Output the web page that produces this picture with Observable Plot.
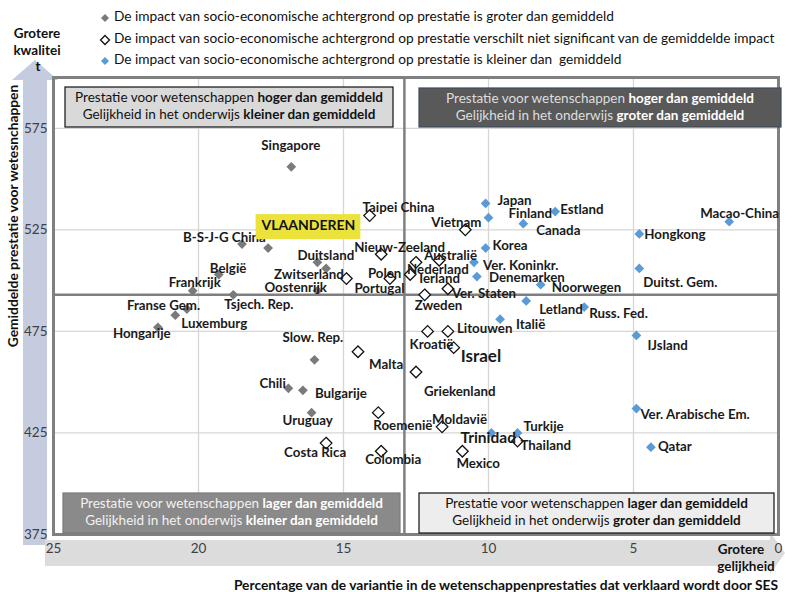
<!DOCTYPE html>
<html><head><meta charset="utf-8">
<script src="https://cdn.jsdelivr.net/npm/d3@7"></script>
<script src="https://cdn.jsdelivr.net/npm/@observablehq/plot@0.6"></script>
<style>
body{margin:0;background:#fff;}
#chart{width:785px;height:592px;}
</style></head><body><div id="chart"></div>
<script>
// ---- data ----
const countries = ["Singapore","VLAANDEREN","B-S-J-G China","België","Frankrijk","Duitsland","Zwitserland","Oostenrijk","Tsjech. Rep.","Franse Gem.","Luxemburg","Hongarije","Slow. Rep.","Chili","Bulgarije","Uruguay",
 "Taipei China","Nieuw-Zeeland","Portugal","Polen","Nederland","Ierland","Australië","Vietnam","Zweden","Ver. Staten","Malta","Griekenland","Roemenië","Costa Rica","Colombia","Kroatië","Litouwen","Israel","Moldavië","Mexico","Thailand",
 "Japan","Finland","Estland","Canada","Hongkong","Macao-China","Korea","Ver. Koninkr.","Denemarken","Noorwegen","Duitst. Gem.","Letland","Russ. Fed.","Italië","IJsland","Ver. Arabische Em.","Qatar","Turkije","Trinidad"];
const sesVariance = [16.8,17.6,18.5,19.3,20.2,15.9,15.6,15.9,18.8,20.4,20.8,21.4,16.0,16.9,16.4,16.1,
 14.1,13.7,14.9,13.4,12.5,12.7,11.7,10.8,12.2,11.4,14.5,12.5,13.8,15.6,13.7,12.1,11.4,11.2,11.6,10.9,9.0,
 10.1,10.0,7.7,8.8,4.8,1.7,10.1,10.5,10.4,8.2,4.8,8.7,6.7,9.6,4.9,4.9,4.4,9.0,9.9];
const scienceScore = [556,516,518,503,495,509,506,495,493,486,483,477,461,447,446,435,
 532,513,501,501,509,503,510,525,493,496,465,455,435,420,416,475,475,467,428,416,421,
 538,531,534,528,523,529,516,509,502,498,506,490,487,481,473,437,418,425,425];
const impactGroup = [..."G".repeat(16), ..."N".repeat(21), ..."K".repeat(19)]; // G groter, N niet significant, K kleiner
const xTicks = [25,20,15,10,5,0];
const yTicks = [375,425,475,525,575];
const gridX = [20,15,10,5];
const gridY = [425,475,525,575];
const oecdSes = 12.9, oecdScore = 493;
const legendLabels = [
 "De impact van socio-economische achtergrond op prestatie is groter dan gemiddeld",
 "De impact van socio-economische achtergrond op prestatie verschilt niet significant van de gemiddelde impact",
 "De impact van socio-economische achtergrond op prestatie is kleiner dan  gemiddeld"];

// ---- label layout (pixel offsets from the marker) ----
const labelOffsets = {
 "Singapore":[-30,-21],"B-S-J-G China":[-59,-6],"België":[-9,-6],"Frankrijk":[-24,-8],"Duitsland":[-20,-7],
 "Zwitserland":[-52,6],"Oostenrijk":[-53,-3],"Tsjech. Rep.":[-9,10],"Franse Gem.":[-60,-3],"Luxemburg":[6,9],
 "Hongarije":[-45,6],"Slow. Rep.":[-32,-22],"Chili":[-29,-5],"Bulgarije":[12,3],"Uruguay":[-29,8],
 "Taipei China":[-7,-8],"Nieuw-Zeeland":[-27,-6],"Portugal":[8,10],"Polen":[-22,-5],"Nederland":[-9,7],
 "Ierland":[9,4],"Australië":[-15,-5],"Vietnam":[-34,-7],"Zweden":[-10,11],"Ver. Staten":[4,5],
 "Malta":[11,13],"Griekenland":[8,20],"Roemenië":[-5,13],"Costa Rica":[-42,10],"Colombia":[-16,9],
 "Kroatië":[-18,13],"Litouwen":[9,-3],"Israel":[7,9],"Moldavië":[-10,-7],"Mexico":[-6,13],"Thailand":[3,5],
 "Japan":[12,-3],"Finland":[20,-4],"Estland":[5,-2],"Canada":[13,7],"Hongkong":[5,1],"Macao-China":[-29,-8],
 "Korea":[7,-2],"Ver. Koninkr.":[9,3],"Denemarken":[12,1],"Noorwegen":[11,3],"Duitst. Gem.":[4,14],
 "Letland":[13,9],"Russ. Fed.":[5,7],"Italië":[16,6],"IJsland":[11,10],"Ver. Arabische Em.":[4,6],
 "Qatar":[7,0],"Turkije":[6,-6],"Trinidad":[-31,5]
};
const bigLabels = {"Israel":17,"Trinidad":15.5};

const data = countries.map((c,i)=>({country:c, ses:sesVariance[i], score:scienceScore[i], group:impactGroup[i]}));
const FONT = "Lato, 'Open Sans', sans-serif";
const GRAY = "#7a7a7a", BLUE = "#5b9bd5";

const labelMarks = data.filter(d=>d.country!=="VLAANDEREN").map(d=>{
  const [dx,dy] = labelOffsets[d.country];
  return Plot.text([d],{x:"ses",y:"score",text:"country",dx,dy,textAnchor:"start",
    fontWeight:"bold",fontSize:bigLabels[d.country]||13.3,fill:"#1a1a1a"});
});

const plot = Plot.plot({
  width:785, height:592, marginLeft:53, marginRight:7, marginTop:77, marginBottom:58,
  style:{fontFamily:FONT, background:"transparent", overflow:"visible"},
  x:{domain:[25,0], axis:null},
  y:{domain:[375,600], axis:null},
  marks:[
    Plot.gridX(gridX,{stroke:"#d6d6d6",strokeOpacity:1,strokeWidth:1.3}),
    Plot.gridY(gridY,{stroke:"#d6d6d6",strokeOpacity:1,strokeWidth:1.3}),
    Plot.ruleX([oecdSes],{stroke:"#7f7f7f",strokeWidth:2.5}),
    Plot.ruleY([oecdScore],{stroke:"#7f7f7f",strokeWidth:2.5}),
    Plot.frame({stroke:"#808080",strokeWidth:3}),
    Plot.axisY(yTicks,{tickSize:0,tickPadding:6,fontSize:13.5,fill:"#404040",label:null}),
    Plot.axisX(xTicks,{tickSize:0,tickPadding:9,fontSize:13.5,fill:"#404040",label:null}),
    Plot.dot(data.filter(d=>d.group==="N"),{x:"ses",y:"score",symbol:"diamond2",r:5.2,fill:"white",stroke:"#111",strokeWidth:1.3}),
    Plot.dot(data.filter(d=>d.group==="G"),{x:"ses",y:"score",symbol:"diamond2",r:4.4,fill:GRAY}),
    Plot.dot(data.filter(d=>d.group==="K"),{x:"ses",y:"score",symbol:"diamond2",r:4.4,fill:BLUE}),
    ...labelMarks
  ]
});
document.getElementById("chart").appendChild(plot);

const svg = d3.select(plot);
const xs = plot.scale("x"), ys = plot.scale("y");

// background arrows
const bg = svg.insert("g",":first-child");
bg.append("path").attr("d","M23,545 L23,80 L12,80 L35,60 L58,80 L47,80 L47,545 Z").attr("fill","#c6cce0");
bg.append("path").attr("d","M45,540 L770,540 L770,532 L785,553 L770,574 L770,566 L45,566 Z").attr("fill","#dcdcdc");

// OESO text (partly hidden under the box)
svg.append("clipPath").attr("id","oesoclip").append("rect").attr("x",400).attr("y",128).attr("width",40).attr("height",80);
svg.append("text").attr("transform","translate(420,184) rotate(-90)").attr("font-family",FONT)
  .attr("clip-path","url(#oesoclip)")
  .attr("text-anchor","start").attr("dominant-baseline","middle")
  .attr("font-size",12.5).attr("font-weight","bold").attr("fill","#8a8a8a").text("OESO gemiddelde");

// helper for mixed text
function rich(x,y,parts,fill,boldFill,size){
  const t = svg.append("text").attr("x",x).attr("y",y).attr("text-anchor","middle")
    .attr("dominant-baseline","middle").attr("font-family",FONT).attr("font-size",size||13.5);
  parts.forEach(([s,b])=>t.append("tspan").text(s).attr("font-weight",b?"bold":"normal").attr("fill",b?(boldFill||fill):fill));
}
function box(x,y,w,h,fill,stroke,l1,l2,tf,bf){
  svg.append("rect").attr("x",x).attr("y",y).attr("width",w).attr("height",h).attr("fill",fill).attr("stroke",stroke).attr("stroke-width",1.2);
  const cx = x+w/2;
  rich(cx,y+h/2-8,l1,tf,bf); rich(cx,y+h/2+9,l2,tf,bf);
}
const P = "Prestatie voor wetenschappen ", G = "Gelijkheid in het onderwijs ";
box(65,87,328,40,"#d9d9d9","#111",[[P,0],["hoger dan gemiddeld",1]],[[G,0],["kleiner dan gemiddeld",1]],"#111","#111");
box(419,88,362,39,"#595959","#3e4b5e",[[P,0],["hoger dan gemiddeld",1]],[[G,0],["groter dan gemiddeld",1]],"#dedede","#ffffff");
box(63,493,337,40,"#8a8a8a","#7a7a7a",[[P,0],["lager dan gemiddeld",1]],[[G,0],["kleiner dan gemiddeld",1]],"#f2f2f2","#ffffff");
box(419,493,355,40,"#ededed","#111",[[P,0],["lager dan gemiddeld",1]],[[G,0],["groter dan gemiddeld",1]],"#111","#111");

// VLAANDEREN highlighted label
const vl = data.find(d=>d.country==="VLAANDEREN");
const vx = xs.apply(vl.ses)-6, vy = ys.apply(vl.score)-21;
const vg = svg.append("g");
const vt = vg.append("text").attr("x",vx).attr("y",vy).attr("text-anchor","start").attr("dominant-baseline","middle").attr("font-family",FONT)
  .attr("font-size",14).attr("font-weight","bold").attr("fill","#111").text("VLAANDEREN");
const bb = vt.node().getBBox();
vg.insert("rect","text").attr("x",bb.x-5).attr("y",vy-12.5).attr("width",bb.width+10).attr("height",25).attr("fill","#ebe33c");

// legend
const legendStyles = [{fill:GRAY,stroke:"none",s:4},{fill:"white",stroke:"#111",s:4.5},{fill:BLUE,stroke:"none",s:4}];
[18,40,61].forEach((y,i)=>{
  const st = legendStyles[i];
  svg.append("path").attr("d",`M105,${y-st.s} L${105+st.s},${y} L105,${y+st.s} L${105-st.s},${y} Z`)
    .attr("fill",st.fill).attr("stroke",st.stroke).attr("stroke-width",1.3);
  svg.append("text").attr("x",114).attr("y",y).attr("text-anchor","start").attr("dominant-baseline","middle").attr("font-family",FONT)
    .attr("font-size",13.7).attr("fill","#111").text(legendLabels[i]);
});

// axis titles and arrow captions
function bold(x,y,txt,size,anchor,rot){
  const t = svg.append("text").attr("font-family",FONT).attr("font-size",size).attr("font-weight","bold")
    .attr("fill","#111").attr("text-anchor",anchor||"middle").attr("dominant-baseline","middle").text(txt);
  if(rot) t.attr("transform",`translate(${x},${y}) rotate(${rot})`); else t.attr("x",x).attr("y",y);
}
bold(37,35,"Grotere",13.5); bold(37,52,"kwalitei",13.5); bold(38,68,"t",13.5);
bold(14,216,"Gemiddelde prestatie voor wetesnchappen",13.8,"middle",-90);
bold(741,551,"Grotere",13.5); bold(746,568,"gelijkheid",13.5);
bold(506,586,"Percentage van de variantie in de wetenschappenprestaties dat verklaard wordt door SES",13.8);
</script></body></html>
